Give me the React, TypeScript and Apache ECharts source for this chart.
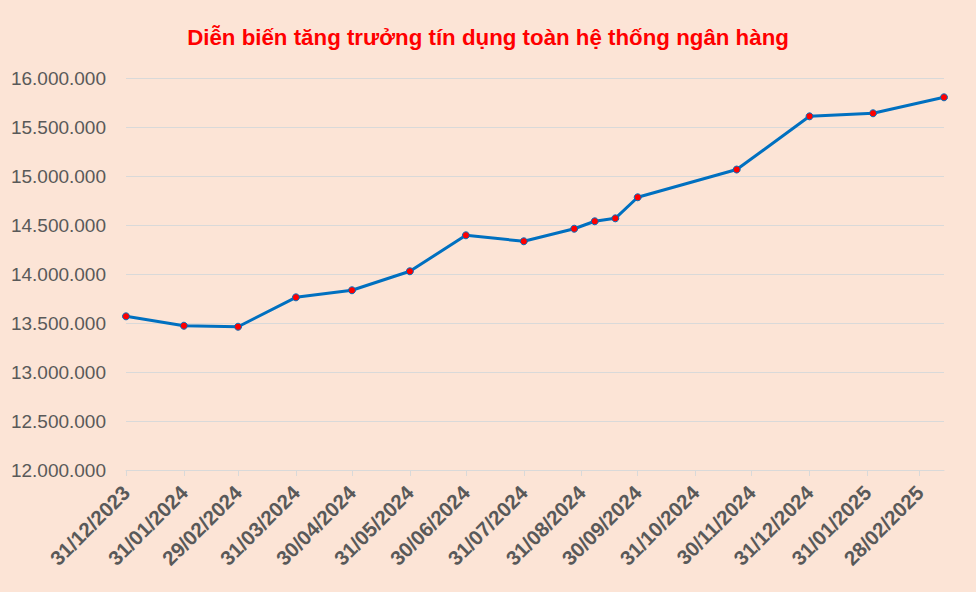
import React, { useEffect, useRef } from "react";
import * as echarts from "echarts";

const TITLE = "Diễn biến tăng trưởng tín dụng toàn hệ thống ngân hàng";

// Observation dates (dd/mm/yyyy as ISO) and total credit values
const pointDates = [
  "2023-12-31", "2024-01-31", "2024-02-29", "2024-03-31", "2024-04-30",
  "2024-05-31", "2024-06-30", "2024-07-31", "2024-08-27", "2024-09-07",
  "2024-09-18", "2024-09-30", "2024-11-22", "2024-12-31", "2025-02-03",
  "2025-03-13",
];
const creditValues = [
  13568000, 13472000, 13462000, 13762000, 13834000,
  14028000, 14395000, 14334000, 14462000, 14538000,
  14568000, 14783000, 15066000, 15609000, 15640000,
  15803000,
];

// Tick labels on the date axis
const tickDates = [
  "2023-12-31", "2024-01-31", "2024-02-29", "2024-03-31", "2024-04-30",
  "2024-05-31", "2024-06-30", "2024-07-31", "2024-08-31", "2024-09-30",
  "2024-10-31", "2024-11-30", "2024-12-31", "2025-01-31", "2025-02-28",
];

const yTicks = [12000000, 12500000, 13000000, 13500000, 14000000, 14500000, 15000000, 15500000, 16000000];

const DAY = 86400000;
const toUTC = (s: string) => {
  const [y, m, d] = s.split("-").map(Number);
  return Date.UTC(y, m - 1, d);
};
const origin = toUTC(pointDates[0]);
const toDay = (s: string) => Math.round((toUTC(s) - origin) / DAY);
const fmtDay = (v: number) => {
  const d = new Date(origin + Math.round(v) * DAY);
  const dd = String(d.getUTCDate()).padStart(2, "0");
  const mm = String(d.getUTCMonth() + 1).padStart(2, "0");
  return `${dd}/${mm}/${d.getUTCFullYear()}`;
};
const fmtNum = (v: number) => String(Math.round(v)).replace(/\B(?=(\d{3})+(?!\d))/g, ".");

export default function App() {
  const ref = useRef<HTMLDivElement>(null);
  useEffect(() => {
    document.body.style.margin = "0";
    if (!ref.current) return;
    const chart = echarts.init(ref.current, undefined, { renderer: "svg" });
    const ticks = tickDates.map(toDay);
    const data = pointDates.map((d, i) => [toDay(d), creditValues[i]]);
    chart.setOption({
      animation: false,
      backgroundColor: "#FCE4D6",
      title: {
        text: TITLE,
        left: "center",
        top: 21,
        textStyle: {
          color: "#FF0000",
          fontWeight: "bold",
          fontSize: 22.3,
          fontFamily: "Liberation Sans",
        },
      },
      grid: { left: 126, right: 32, top: 78, bottom: 122, containLabel: false },
      xAxis: {
        type: "value",
        min: 0,
        max: toDay(pointDates[pointDates.length - 1]),
        splitLine: { show: false },
        axisLine: { show: true, lineStyle: { color: "#D9D9D9", width: 1 } },
        axisTick: {
          show: true,
          customValues: ticks,
          length: 6,
          lineStyle: { color: "#D9D9D9" },
        },
        axisLabel: {
          customValues: ticks,
          formatter: (v: number) => fmtDay(v),
          rotate: 45,
          margin: 19,
          color: "#595959",
          fontWeight: "bold",
          fontSize: 20.5,
          fontFamily: "Liberation Sans",
        },
      },
      yAxis: {
        type: "value",
        min: yTicks[0],
        max: yTicks[yTicks.length - 1],
        interval: 500000,
        axisLine: { show: false },
        axisTick: { show: false },
        splitLine: { lineStyle: { color: "#D9D9D9", width: 1 } },
        axisLabel: {
          formatter: (v: number) => fmtNum(v),
          margin: 20,
          color: "#595959",
          fontSize: 19,
          fontFamily: "Liberation Sans",
        },
      },
      series: [
        {
          type: "line",
          data,
          symbol: "circle",
          symbolSize: 7,
          lineStyle: { color: "#0070C0", width: 3 },
          itemStyle: { color: "#FF0000", borderColor: "#0070C0", borderWidth: 1 },
        },
      ],
    });
    return () => chart.dispose();
  }, []);
  return (
    <div
      style={{
        width: 976,
        height: 592,
        boxSizing: "border-box",
        border: "1px solid #D9D9D9",
        position: "relative",
      }}
    >
      <div ref={ref} style={{ position: "absolute", left: -1, top: -1, width: 976, height: 592 }} />
    </div>
  );
}
